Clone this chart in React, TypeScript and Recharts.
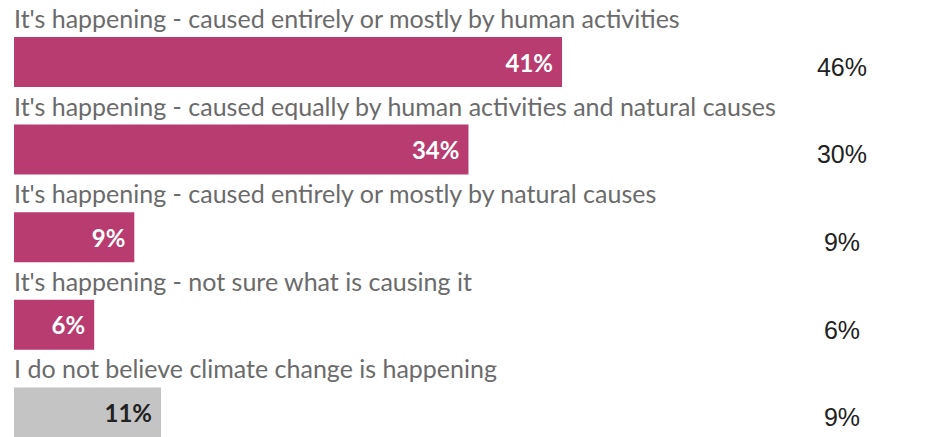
import { BarChart, Bar, XAxis, YAxis, Cell, LabelList } from 'recharts';

// survey answers, shares in this poll and comparison poll (right column)
const categories = [
  "It's happening - caused entirely or mostly by human activities",
  "It's happening - caused equally by human activities and natural causes",
  "It's happening - caused entirely or mostly by natural causes",
  "It's happening - not sure what is causing it",
  'I do not believe climate change is happening',
];
const shares = [41, 34, 9, 6, 11];
const otherShares = [46, 30, 9, 6, 9];
const barColors = ['#b83c70', '#b83c70', '#b83c70', '#b83c70', '#c4c4c4'];

const data = categories.map((label, i) => ({
  label,
  value: shares[i],
  other: `${otherShares[i]}%`,
}));

const labelFont = 'Lato, "Open Sans", sans-serif';

const CategoryLabel = (props: any) => {
  const { x, y, value } = props;
  return (
    <text x={x} y={y - 9} fill="#6b6b6b" fontSize={25} fontFamily={labelFont}>
      {value}
    </text>
  );
};

const ValueLabel = (props: any) => {
  const { x, y, width, height, value, index } = props;
  const isGray = index === shares.length - 1;
  return (
    <text
      x={x + width - 9}
      y={y + height / 2}
      textAnchor="end"
      dominantBaseline="central"
      fill={isGray ? '#222' : '#fff'}
      fontSize={24}
      fontWeight={700}
      fontFamily={labelFont}
    >
      {value}%
    </text>
  );
};

const RightTick = (props: any) => {
  const { x, y, payload } = props;
  return (
    <text
      x={x}
      y={y + 5}
      textAnchor="middle"
      dominantBaseline="central"
      fill="#222"
      fontSize={25}
      fontFamily='"Liberation Sans", Arial, sans-serif'
    >
      {payload.value}
    </text>
  );
};

const App = () => {
  return (
    <div style={{ position: 'absolute', left: 0, top: 0, background: '#fff' }}>
      <BarChart
        width={925}
        height={456}
        data={data}
        layout="vertical"
        margin={{ top: 18, right: 0, bottom: 0, left: 14 }}
      >
        <XAxis type="number" domain={[0, 60]} hide />
        <YAxis type="category" dataKey="label" yAxisId="left" hide width={0} />
        <YAxis
          type="category"
          dataKey="other"
          yAxisId="right"
          orientation="right"
          width={109}
          axisLine={false}
          tickLine={false}
          tickMargin={20}
          tick={<RightTick />}
        />
        <Bar dataKey="value" yAxisId="left" barSize={50} isAnimationActive={false}>
          {data.map((_, i) => (
            <Cell key={i} fill={barColors[i]} />
          ))}
          <LabelList dataKey="label" content={<CategoryLabel />} />
          <LabelList dataKey="value" content={<ValueLabel />} />
        </Bar>
      </BarChart>
    </div>
  );
};

export default App;
